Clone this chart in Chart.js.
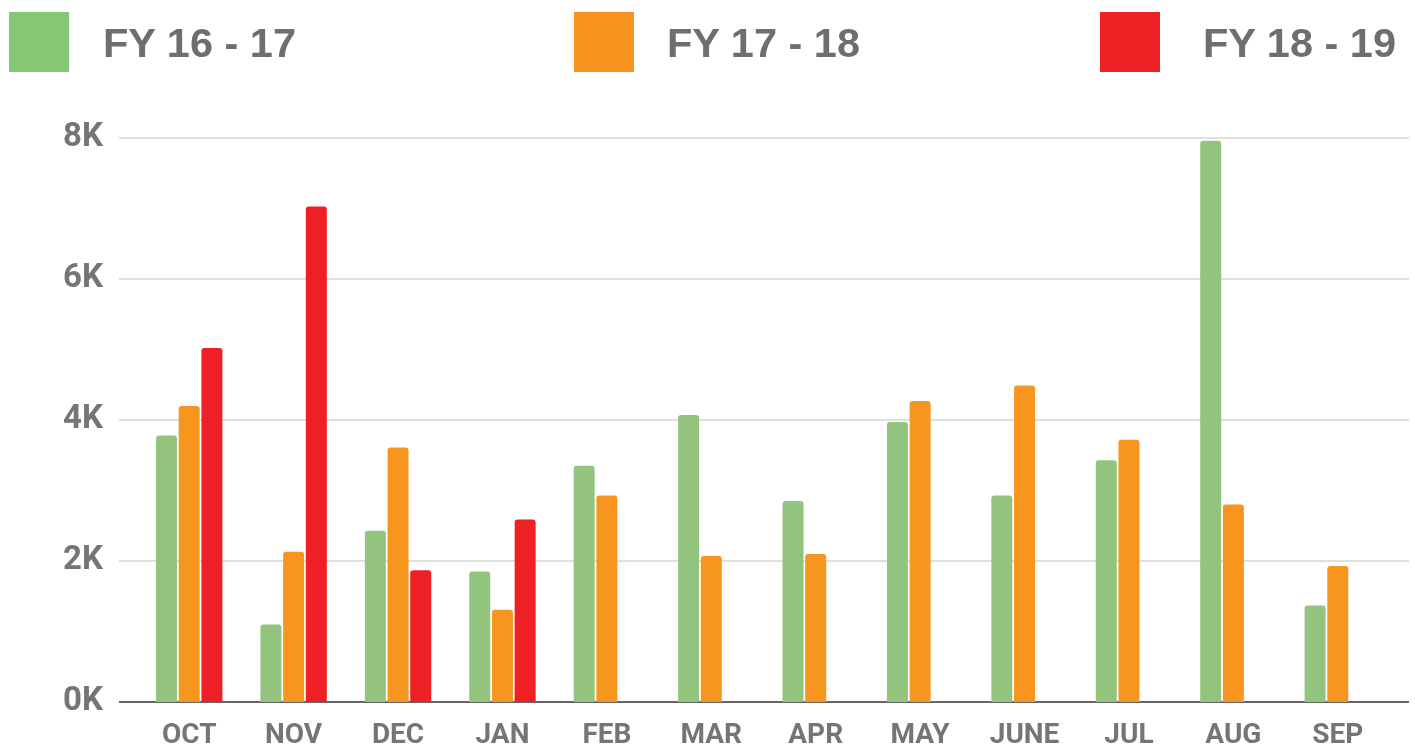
<!DOCTYPE html>
<html>
<head>
<meta charset="utf-8">
<script src="https://cdn.jsdelivr.net/npm/chart.js@4"></script>
<style>
  html, body { margin: 0; padding: 0; background: #fff; }
  #wrap { position: relative; width: 1415px; height: 746px; }
  #chart { position: absolute; left: 0; top: 0; }
  .legend-item { position: absolute; top: 12px; height: 60px; }
  .legend-box { position: absolute; left: 0; top: 0; width: 60px; height: 60px; }
  .legend-text {
    position: absolute; top: 7px; line-height: 60px; white-space: nowrap;
    font: bold 41.5px "Liberation Sans", Arial, sans-serif; color: #6d6e71;
  }
</style>
</head>
<body>
<div id="wrap">
  <canvas id="chart" width="1415" height="746"></canvas>
  <div id="legend"></div>
</div>
<script>
"use strict";

const MONTHS = ["OCT", "NOV", "DEC", "JAN", "FEB", "MAR", "APR", "MAY", "JUNE", "JUL", "AUG", "SEP"];
const SERIES_NAMES = ["FY 16 - 17", "FY 17 - 18", "FY 18 - 19"];
const FY_16_17 = [3780, 1100, 2430, 1850, 3350, 4070, 2850, 3970, 2930, 3430, 7960, 1370];
const FY_17_18 = [4200, 2130, 3610, 1310, 2930, 2070, 2100, 4270, 4490, 3720, 2800, 1930];
const FY_18_19 = [5020, 7030, 1870, 2590, null, null, null, null, null, null, null, null];
const Y_TICKS = [0, 2000, 4000, 6000, 8000];

const BAR_COLORS = ["#93c47d", "#f7961e", "#ee1f25"];
const LEGEND_COLORS = ["#85c874", "#f7931e", "#ed2024"];
const LEGEND_POS = [
  { box: 9, text: 103 },
  { box: 574, text: 667 },
  { box: 1100, text: 1203 },
];

function buildLegend() {
  const el = document.getElementById("legend");
  el.innerHTML = SERIES_NAMES.map((name, i) => {
    const p = LEGEND_POS[i];
    return `<div class="legend-item" style="left:${p.box}px">
      <div class="legend-box" style="background:${LEGEND_COLORS[i]}"></div>
      <div class="legend-text" style="left:${p.text - p.box}px">${name}</div>
    </div>`;
  }).join("");
}

// gridlines in the source run a little past the category band on both sides
const extendedGrid = {
  id: "extendedGrid",
  beforeDatasetsDraw(chart) {
    const { ctx, chartArea, scales } = chart;
    const left = chartArea.left - 18;
    const right = chartArea.right + 19;
    ctx.save();
    for (const v of Y_TICKS) {
      const y = Math.round(scales.y.getPixelForValue(v));
      ctx.beginPath();
      ctx.strokeStyle = v === 0 ? "#666666" : "#d6d6d6";
      ctx.lineWidth = v === 0 ? 2 : 1.5;
      ctx.moveTo(left, y);
      ctx.lineTo(right, y);
      ctx.stroke();
    }
    ctx.restore();
  },
};

function renderChart() {
  const data = [FY_16_17, FY_17_18, FY_18_19];
  new Chart(document.getElementById("chart"), {
    type: "bar",
    data: {
      labels: MONTHS,
      datasets: data.map((values, i) => ({
        label: SERIES_NAMES[i],
        data: values,
        backgroundColor: BAR_COLORS[i],
        borderRadius: { topLeft: 3, topRight: 3 },
        borderSkipped: "start",
        categoryPercentage: 0.652,
        barPercentage: 0.925,
      })),
    },
    options: {
      responsive: false,
      animation: false,
      layout: { padding: { top: 138, right: 25, left: 0, bottom: 0 } },
      plugins: { legend: { display: false }, tooltip: { enabled: false } },
      scales: {
        x: {
          grid: { display: false, drawTicks: false },
          border: { display: false },
          ticks: {
            color: "#757575",
            padding: 17,
            font: { family: "Roboto", weight: "bold", size: 28 },
            maxRotation: 0,
          },
          afterFit: (scale) => { scale.height = 44; },
        },
        y: {
          min: 0,
          max: 8000,
          grid: { display: false, drawTicks: false },
          border: { display: false },
          afterBuildTicks: (scale) => { scale.ticks = Y_TICKS.map((v) => ({ value: v })); },
          ticks: {
            color: "#757575",
            padding: 34,
            font: { family: "Roboto", weight: "bold", size: 33 },
            callback: (v) => `${v / 1000}K`,
          },
          afterFit: (scale) => {
            scale.width = 137;
            scale.paddingTop = 0;
            scale.paddingBottom = 0;
          },
        },
      },
    },
    plugins: [extendedGrid],
  });
}

buildLegend();
renderChart();
</script>
</body>
</html>
